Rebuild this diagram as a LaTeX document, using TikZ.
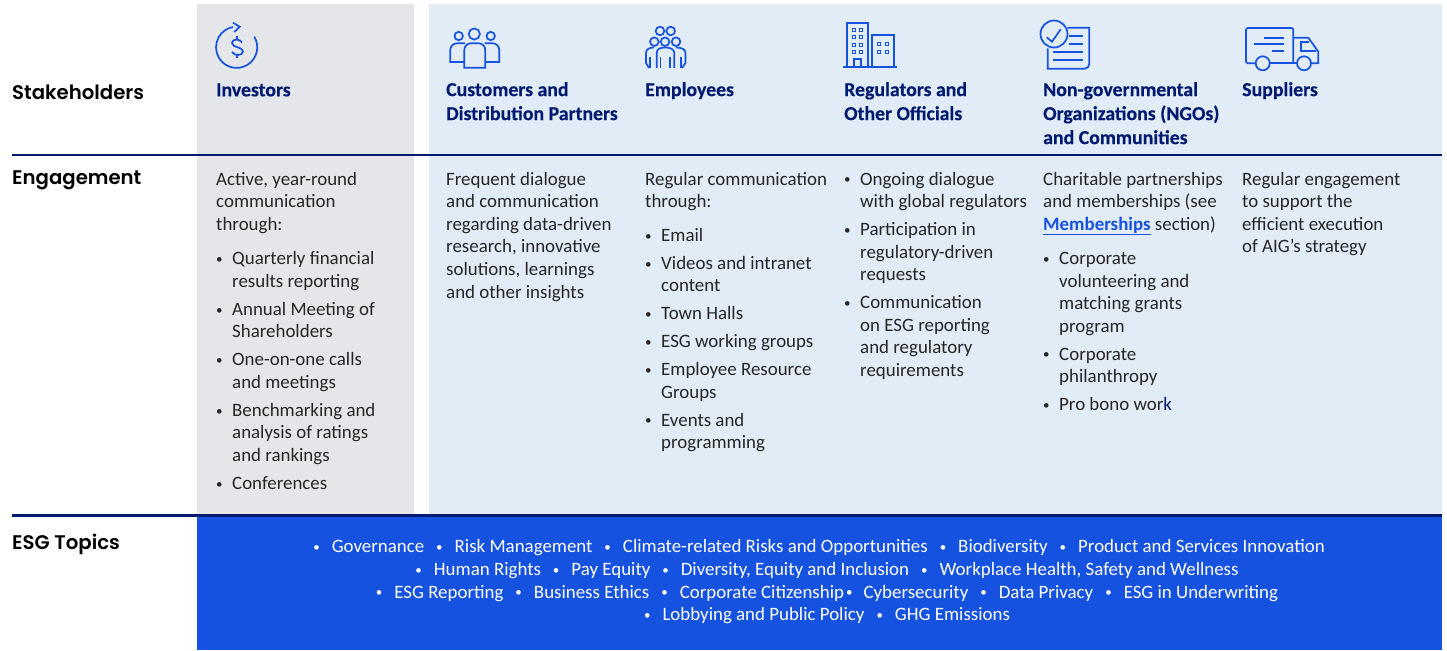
\documentclass[tikz,border=0pt]{standalone}
\usepackage{fontspec}
\setmainfont{Carlito}
\newfontfamily\headfont{Poppins SemiBold}
\newfontfamily\colfont[BoldFeatures={FakeBold=0.35}]{Carlito}
\definecolor{grayband}{HTML}{E4E6E9}
\definecolor{lightband}{HTML}{E2ECF7}
\definecolor{royal}{HTML}{1552E0}
\definecolor{navy}{HTML}{001A72}
\definecolor{bodytext}{HTML}{262626}
\newcommand{\smbul}{\raisebox{1.2pt}{\fontsize{13}{13}\selectfont\textbullet}}
\newenvironment{cell}[1]{\begin{minipage}[t]{#1}\raggedright\strut\ignorespaces}{\end{minipage}}
\newenvironment{bul}{\begin{list}{\smbul\hfill}{\leftmargin=16pt\labelwidth=16pt\labelsep=0pt\itemsep=5.3pt\parsep=0pt\topsep=0pt\partopsep=0pt\rightmargin=0pt\listparindent=0pt\itemindent=0pt}\raggedright}{\end{list}}
\tikzset{
  x=1pt,y=-1pt,
  rowhead/.style={anchor=base west,inner sep=0pt,font=\headfont\fontsize{19.7}{26}\selectfont,text=black},
  colhead/.style={anchor=north west,inner sep=0pt,align=left,text=navy,font=\colfont\fontsize{19.8}{24}\selectfont\bfseries},
  bodycell/.style={anchor=north west,inner sep=0pt,text=bodytext,font=\fontsize{18.9}{22.6}\selectfont},
  rule/.style={draw=navy,line width=2.6pt},
  icon/.style={draw=royal,line width=1.7pt,fill=none},
  iconthick/.style={draw=royal,line width=2.4pt},
}
\begin{document}
\begin{tikzpicture}
\useasboundingbox (0,0) rectangle (1447,650);
\fill[grayband] (197,4) rectangle (414,516);
\fill[lightband] (429,4) rectangle (1442,516);
\fill[royal] (197,516) rectangle (1442,650);
\coordinate (r1a) at (12,155); \coordinate (r1b) at (1442,155);
\coordinate (r2a) at (12,515.5); \coordinate (r2b) at (1442,515.5);
\draw[rule] (r1a) -- (r1b);
\draw[rule] (r2a) -- (r2b);

\node[rowhead] (hStake) at (12,99.5) {Stakeholders};
\node[rowhead] (hEng) at (12,184) {Engagement};
\node[rowhead] (hEsg) at (12,549.5) {ESG Topics};

\node[colhead] (cInv) at (216,83.3) {Investors};
\node[colhead] (cCust) at (446,82) {Customers and\\Distribution Partners};
\node[colhead] (cEmp) at (645,82) {Employees};
\node[colhead] (cReg) at (844,82) {Regulators and\\Other Officials};
\node[colhead] (cNgo) at (1043,82) {Non-governmental\\Organizations (NGOs)\\and Communities};
\node[colhead] (cSup) at (1242,82) {Suppliers};

\node[bodycell] (bInv) at (216,169) {\begin{cell}{190pt}Active, year-round\\communication\\through:\vspace{12pt}
\begin{bul}
\item Quarterly financial\\results reporting
\item Annual Meeting of\\Shareholders
\item One-on-one calls\\and meetings
\item Benchmarking and\\analysis of ratings\\and rankings
\item Conferences
\end{bul}\end{cell}};
\node[bodycell] (bCust) at (446,169) {\begin{cell}{190pt}Frequent dialogue\\and communication\\regarding data-driven\\research, innovative\\solutions, learnings\\and other insights\end{cell}};
\node[bodycell] (bEmp) at (645,169) {\begin{cell}{195pt}Regular communication\\through:\vspace{11.2pt}
\begin{bul}
\item Email
\item Videos and intranet\\content
\item Town Halls
\item ESG working groups
\item Employee Resource\\Groups
\item Events and\\programming
\end{bul}\end{cell}};
\node[bodycell] (bReg) at (844,169) {\begin{minipage}[t]{195pt}\vspace{-\baselineskip}\strut\begin{bul}
\item Ongoing dialogue\\with global regulators
\item Participation in\\regulatory-driven\\requests
\item Communication\\on ESG reporting\\and regulatory\\requirements
\end{bul}\end{minipage}};
\node[bodycell] (bNgo) at (1043,169) {\begin{cell}{195pt}Charitable partnerships\\and memberships (see\\{\color{royal}\underline{\textbf{Memberships}}} section)\vspace{11.6pt}
\begin{bul}
\item Corporate\\volunteering and\\matching grants\\program
\item Corporate\\philanthropy
\item Pro bono wor{\color{navy}k}
\end{bul}\end{cell}};
\node[bodycell] (bSup) at (1242,169) {\begin{cell}{195pt}Regular engagement\\to support the\\efficient execution\\of AIG's strategy\end{cell}};

\newcommand{\tb}{\hspace{12pt}\smbul\hspace{12pt}}
\node[bodycell,anchor=north,text=white,align=center] (topics) at (827,539.5) {%
\smbul\hspace{12pt}Governance\tb Risk Management\tb Climate-related Risks and Opportunities\tb Biodiversity\tb Product and Services Innovation\hspace*{16pt}\\
\smbul\hspace{12pt}Human Rights\tb Pay Equity\tb Diversity, Equity and Inclusion\tb Workplace Health, Safety and Wellness\\
\smbul\hspace{12pt}ESG Reporting\tb Business Ethics\tb Corporate Citizenship\hspace{2pt}\smbul\hspace{11pt}Cybersecurity\tb Data Privacy\tb ESG in Underwriting\\
\smbul\hspace{12pt}Lobbying and Public Policy\tb GHG Emissions};

% investors icon
\draw[icon] (254.3,36.7) arc[start angle=-31,end angle=260,radius=20.6];
\draw[icon] (233,22.7) -- (239.7,26.7) -- (234.3,32);
\draw[icon] (242,42.5) .. controls (240,38.5) and (232,38.5) .. (232,43) .. controls (232,48) and (243,46.5) .. (243,51.5) .. controls (243,56) and (234,56) .. (232,52);
\draw[icon] (237,36.5) -- (237,39.5) (237,55) -- (237,58);

% customers icon
\draw[icon] (458.7,36) circle[radius=4.2] (474.3,34) circle[radius=5.6] (490.7,36) circle[radius=4.2];
\draw[icon] (464.3,67.7) -- (464.3,50) arc[start angle=180,end angle=270,radius=6.7] -- (478.6,43.3) arc[start angle=270,end angle=360,radius=6.7] -- (485.3,67.7) -- cycle;
\draw[icon] (464.3,62) -- (450.3,62) -- (450.3,50) arc[start angle=180,end angle=270,radius=6.7] -- (465,43.3);
\draw[icon] (485.3,62) -- (499.3,62) -- (499.3,50) arc[start angle=0,end angle=-90,radius=6.7] -- (484.6,43.3);

% employees icon
\draw[icon] (660,31) circle[radius=4.3] (670.7,31) circle[radius=4.3] (654.3,41.7) circle[radius=4.3] (665,41.7) circle[radius=4.3] (676,41.7) circle[radius=4.3];
\draw[icon] (656.7,68) -- (656.7,53) .. controls (656.7,49) and (660,47.5) .. (665,47.5) .. controls (670,47.5) and (674.3,49) .. (674.3,53) -- (674.3,68);
\draw[icon] (660.5,57) -- (660.5,68.5) (670,57) -- (670,68.5);
\draw[icon] (649,68) -- (646,63) -- (646,53) .. controls (646,49.5) and (649,47.5) .. (654,47.5);
\draw[icon] (650,57) -- (650,68.5);
\draw[icon] (681,57) -- (681,68.5);
\draw[icon] (682,68) -- (685.5,63) -- (685.5,53) .. controls (685.5,49.5) and (682,47.5) .. (676,47.5);

% buildings icon
\draw[iconthick] (843.3,67) -- (896.7,67);
\draw[icon] (847,67) -- (847,23) -- (868.3,23) -- (868.3,67);
\draw[icon] (872.3,67) -- (872.3,35.3) -- (893.7,35.3) -- (893.7,67);
\draw[icon] (854.3,67) -- (854.3,58.7) -- (861,58.7) -- (861,67);
\foreach \wx in {853.7,861.3} \foreach \wy in {30,37.3,44.7,52}
  \draw[icon,line width=1.1pt] (\wx-1.5,\wy-1.5) rectangle (\wx+1.5,\wy+1.5);
\foreach \wx in {879.3,887} \foreach \wy in {44.3,51.7}
  \draw[icon,line width=1.1pt] (\wx-1.5,\wy-1.5) rectangle (\wx+1.5,\wy+1.5);

% NGO icon
\draw[icon] (1054,34) circle[radius=13.5];
\draw[icon] (1046.7,37.3) -- (1052,41.7) -- (1060.7,29.3);
\draw[icon] (1067.3,27.7) -- (1089.3,27.7) -- (1089.3,64) arc[start angle=0,end angle=90,radius=4.7] -- (1047.7,68.7) -- (1047.7,48.3);
\draw[iconthick] (1069.3,36.3) -- (1083.3,36.3) (1069.3,44.3) -- (1083.3,44.3) (1053.3,52.3) -- (1083.3,52.3) (1053.3,60.3) -- (1083.3,60.3);

% truck icon
\draw[icon] (1255.7,63.3) -- (1248,63.3) arc[start angle=90,end angle=180,radius=2] -- (1246,30) arc[start angle=180,end angle=270,radius=2] -- (1291.3,28) arc[start angle=270,end angle=360,radius=2] -- (1293.3,63.3);
\draw[icon] (1269.7,63.3) -- (1297,63.3);
\draw[icon] (1262.7,63.3) circle[radius=7] (1304,63.3) circle[radius=7];
\draw[icon] (1311,63.3) -- (1318.3,63.3) -- (1318.3,51.7) -- (1308.3,37.7) -- (1293.3,37.7);
\draw[icon] (1316,51.3) -- (1301,51.3) -- (1301,42.3) -- (1309.3,42.3);
\draw[icon] (1264,37.7) -- (1284,37.7) (1254,44.3) -- (1284,44.3) (1272.3,51.3) -- (1284,51.3);
\end{tikzpicture}
\end{document}
